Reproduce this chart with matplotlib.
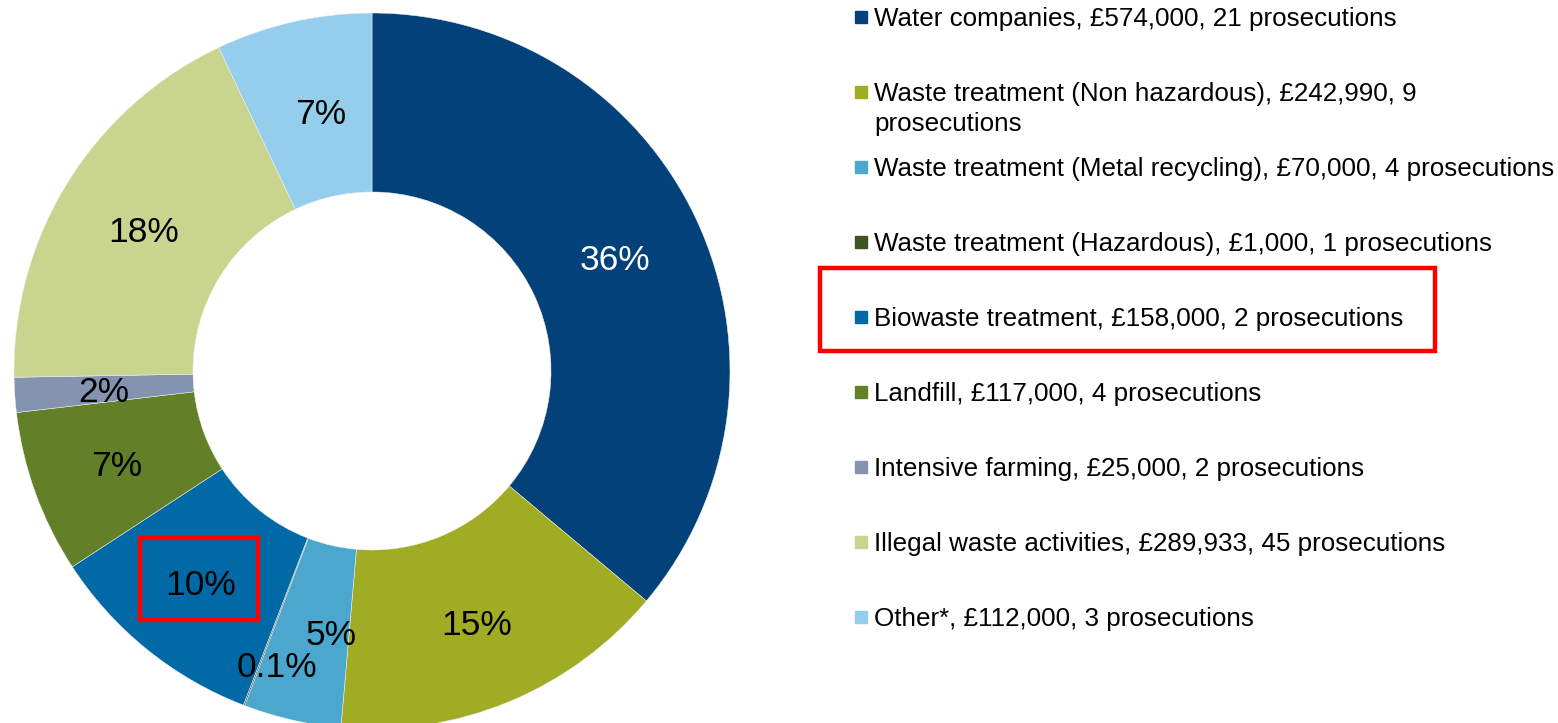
import matplotlib
matplotlib.use("Agg")
import matplotlib.pyplot as plt
from matplotlib.patches import Rectangle
import numpy as np

# data
sectors = ["Water companies", "Waste treatment (Non hazardous)",
           "Waste treatment (Metal recycling)", "Waste treatment (Hazardous)",
           "Biowaste treatment", "Landfill", "Intensive farming",
           "Illegal waste activities", "Other*"]
fines = [574000, 242990, 70000, 1000, 158000, 117000, 25000, 289933, 112000]
prosecutions = [21, 9, 4, 1, 2, 4, 2, 45, 3]
pct_labels = ["36%", "15%", "5%", "0.1%", "10%", "7%", "2%", "18%", "7%"]
colors = ["#03417A", "#A0AC24", "#4BA7CE", "#3E5523", "#0069A6",
          "#628028", "#8393B0", "#C9D48E", "#95CEEC"]

W, H = 1558, 723
fig = plt.figure(figsize=(W / 100, H / 100), dpi=100)


def fx(x):
    return x / W


def fy(y):
    return 1 - y / H


# donut centred at (372, 371) px, outer radius 358 px
cx, cy, R = 372, 371, 358
ax = fig.add_axes([fx(cx - R), fy(cy + R), 2 * R / W, 2 * R / H])
wedges, _ = ax.pie(fines, colors=colors, startangle=90, counterclock=False,
                   radius=1, wedgeprops=dict(width=0.5, edgecolor="#f2f2f2", linewidth=0.35))
ax.set_xlim(-1, 1)
ax.set_ylim(-1, 1)
ax.set_aspect("equal")
ax.axis("off")

label_r = [0.75, 0.76, 0.74, 0.86, 0.76, 0.76, 0.75, 0.75, 0.74]
label_shift = [0, 0, 4, 3, 0, 0, 0, 0, -1.5]  # degrees
for i, w in enumerate(wedges):
    ang = np.deg2rad((w.theta1 + w.theta2) / 2 + label_shift[i])
    col = "white" if i == 0 else "black"
    ax.text(label_r[i] * np.cos(ang), label_r[i] * np.sin(ang) - 0.009, pct_labels[i],
            ha="center", va="center", fontsize=25.5, color=col,
            family="Liberation Sans")

# legend drawn by hand, rows every 75 px
for i, name in enumerate(sectors):
    base = 26 + 75 * i
    if i == 1:
        txt = f"{name}, \u00a3{fines[i]:,}, {prosecutions[i]}\nprosecutions"
        ty = base + 30
    else:
        txt = f"{name}, \u00a3{fines[i]:,}, {prosecutions[i]} prosecutions"
        ty = base
    fig.text(fx(874), fy(ty), txt, ha="left", va="baseline", fontsize=18.7,
             family="Liberation Sans", linespacing=1.29)
    fig.patches.append(Rectangle((fx(855), fy(base - 3)), 12 / W, 12 / H,
                                 transform=fig.transFigure, color=colors[i]))

# red highlight boxes
fig.patches.append(Rectangle((fx(140), fy(620)), 118 / W, 82 / H, transform=fig.transFigure,
                             fill=False, edgecolor="#FF0000", linewidth=3.2))
fig.patches.append(Rectangle((fx(820), fy(351)), 615 / W, 83 / H, transform=fig.transFigure,
                             fill=False, edgecolor="#FF0000", linewidth=3.2))

fig.savefig("out.png", dpi=100, facecolor="white")
